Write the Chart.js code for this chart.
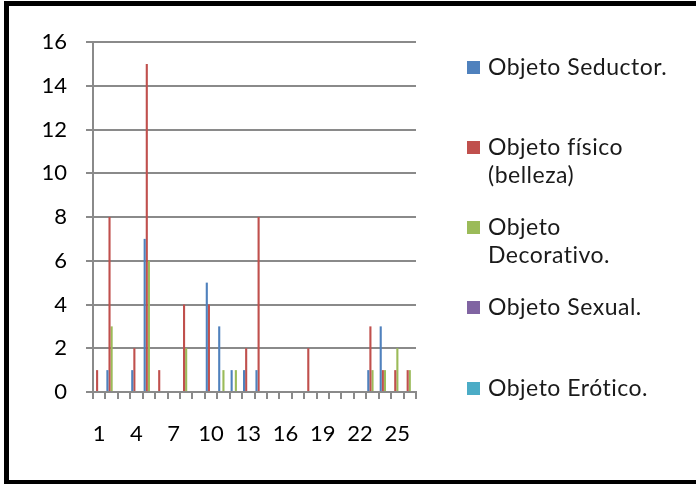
<!DOCTYPE html>
<html>
<head>
<meta charset="utf-8">
<script src="https://cdn.jsdelivr.net/npm/chart.js@4"></script>
<style>
  html, body { margin: 0; padding: 0; background: #fff; }
  body { width: 696px; height: 484px; position: relative; overflow: hidden; font-family: Lato, "Open Sans", sans-serif; }
  #frame {
    position: absolute; left: 4px; top: 1px; width: 692px; height: 474px;
    border-left: 5px solid #000; border-top: 5px solid #000; border-bottom: 4px solid #000;
    box-sizing: content-box;
  }
  #wrap { position: absolute; left: 0; top: 0; width: 696px; height: 484px; }
  .item {
    position: absolute; left: 467px; font-size: 23px; line-height: 28px; color: #1a1a1a;
    white-space: nowrap; letter-spacing: 0.5px; font-variant-ligatures: none;
  }
  .item .box { position: absolute; left: 0; top: 9px; width: 13px; height: 13px; }
  .item .txt { position: absolute; left: 21px; top: 0; }
</style>
</head>
<body>
<div id="frame"></div>
<div id="wrap"><canvas id="chart" width="696" height="484"></canvas></div>
<div id="legend"></div>
<script>
// DATA
const categories = ["1", "2", "3", "4", "5", "6", "7", "8", "9", "10", "11", "12", "13",
  "14", "15", "16", "17", "18", "19", "20", "21", "22", "23", "24", "25", "26"];
const shownTicks = ["1", "4", "7", "10", "13", "16", "19", "22", "25"];

const seriesNames = ["Objeto Seductor.", "Objeto físico (belleza)", "Objeto Decorativo.", "Objeto Sexual.", "Objeto Erótico."];
const legendLines = [["Objeto Seductor."], ["Objeto físico", "(belleza)"], ["Objeto", "Decorativo."], ["Objeto Sexual."], ["Objeto Erótico."]];
const seriesColors = ["#4F81BD", "#C0504D", "#9BBB59", "#8064A2", "#4BACC6"];

//                 1  2  3  4  5  6  7  8  9 10 11 12 13 14 15 16 17 18 19 20 21 22 23 24 25 26
const seductor   = [0, 1, 0, 1, 7, 0, 0, 0, 0, 5, 3, 1, 1, 1, 0, 0, 0, 0, 0, 0, 0, 0, 1, 3, 0, 0];
const fisico     = [1, 8, 0, 2, 15, 1, 0, 4, 0, 4, 0, 0, 2, 8, 0, 0, 0, 2, 0, 0, 0, 0, 3, 1, 1, 1];
const decorativo = [0, 3, 0, 0, 6, 0, 0, 2, 0, 0, 1, 1, 0, 0, 0, 0, 0, 0, 0, 0, 0, 0, 1, 1, 2, 1];
const sexual     = [0, 0, 0, 0, 0, 0, 0, 0, 0, 0, 0, 0, 0, 0, 0, 0, 0, 0, 0, 0, 0, 0, 0, 0, 0, 0];
const erotico    = [0, 0, 0, 0, 0, 0, 0, 0, 0, 0, 0, 0, 0, 0, 0, 0, 0, 0, 0, 0, 0, 0, 0, 0, 0, 0];

const yMin = 0;
const yMax = 16;
const yStep = 2;

// LEGEND (html, Excel-like spacing)
const legendTops = [52, 132, 212, 292, 373];
function buildLegend() {
  const el = document.getElementById("legend");
  let html = "";
  legendLines.forEach((lines, i) => {
    html += `
      <div class="item" style="top:${legendTops[i]}px">
        <span class="box" style="background:${seriesColors[i]}"></span>
        <span class="txt">${lines.join("<br>")}</span>
      </div>`;
  });
  el.innerHTML = html;
}

// CHART
const gridColor = "#8a8a8a";
const allSeries = [seductor, fisico, decorativo, sexual, erotico];

const chartData = {
  labels: categories,
  datasets: allSeries.map((values, i) => ({
    label: seriesNames[i],
    data: values,
    backgroundColor: seriesColors[i],
    borderWidth: 0,
    categoryPercentage: 0.85,
    barPercentage: 1.0
  }))
};

const chartOptions = {
  responsive: false,
  animation: false,
  layout: {
    padding: { left: 0, right: 280, top: 42, bottom: 32 }
  },
  plugins: {
    legend: { display: false },
    tooltip: { enabled: false }
  },
  scales: {
    x: {
      grid: {
        display: true,
        drawOnChartArea: false,
        drawTicks: true,
        tickLength: 7,
        color: gridColor,
        lineWidth: 2
      },
      border: { color: gridColor, width: 2 },
      ticks: {
        autoSkip: false,
        maxRotation: 0,
        minRotation: 0,
        padding: 22,
        color: "#000",
        font: { family: "Lato", size: 22 },
        callback: function (value, index) {
          const lab = categories[index];
          return shownTicks.includes(lab) ? lab : "";
        }
      },
      afterFit: scale => { scale.height = 60; }
    },
    y: {
      min: yMin,
      max: yMax,
      grid: {
        color: gridColor,
        lineWidth: 2,
        tickLength: 7
      },
      border: { color: gridColor, width: 2 },
      ticks: {
        stepSize: yStep,
        padding: 19,
        color: "#000",
        font: { family: "Lato", size: 22 }
      },
      afterFit: scale => { scale.width = 93; }
    }
  }
};

function init() {
  buildLegend();
  const ctx = document.getElementById("chart").getContext("2d");
  new Chart(ctx, { type: "bar", data: chartData, options: chartOptions });
}

init();
</script>
</body>
</html>
